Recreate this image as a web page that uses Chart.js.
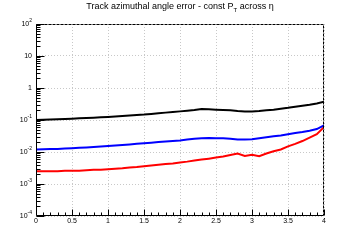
<!DOCTYPE html>
<html>
<head>
<meta charset="utf-8">
<script src="https://cdn.jsdelivr.net/npm/chart.js@4"></script>
<style>
html, body { margin: 0; padding: 0; background: #fff; }
#wrap { position: relative; width: 360px; height: 240px; }
#chart { position: absolute; left: 0; top: 0; }
#title { position: absolute; left: 0; top: 1px; width: 360px; text-align: center;
         font: 9px "Liberation Sans", Arial, sans-serif; color: #000; }
#title sub { font-size: 6px; vertical-align: -3px; }
</style>
</head>
<body>
<div id="wrap">
  <canvas id="chart" width="360" height="240"></canvas>
  <div id="title">Track azimuthal angle error - const P<sub>T</sub> across η</div>
</div>
<script>
// eta bins (x axis)
var eta = [0, 0.1, 0.2, 0.3, 0.4, 0.5, 0.6, 0.7, 0.8, 0.9,
           1.0, 1.1, 1.2, 1.3, 1.4, 1.5, 1.6, 1.7, 1.8, 1.9,
           2.0, 2.1, 2.2, 2.3, 2.4, 2.5, 2.6, 2.7, 2.8, 2.9,
           3.0, 3.1, 3.2, 3.3, 3.4, 3.5, 3.6, 3.7, 3.8, 3.9, 4.0];

// phi error, black curve
var errBlack = [0.100, 0.101, 0.103, 0.105, 0.107, 0.110, 0.113, 0.115, 0.118, 0.121,
                0.125, 0.129, 0.133, 0.138, 0.143, 0.148, 0.155, 0.162, 0.170, 0.178,
                0.186, 0.195, 0.205, 0.220, 0.215, 0.210, 0.205, 0.200, 0.190, 0.185,
                0.185, 0.190, 0.200, 0.210, 0.225, 0.240, 0.260, 0.280, 0.300, 0.330, 0.370];

// phi error, blue curve
var errBlue = [0.0120, 0.0121, 0.0123, 0.0125, 0.0128, 0.0131, 0.0135, 0.0139, 0.0143, 0.0148,
               0.0153, 0.0159, 0.0165, 0.0172, 0.0180, 0.0188, 0.0196, 0.0205, 0.0214, 0.0222,
               0.0230, 0.0245, 0.0260, 0.0270, 0.0272, 0.0270, 0.0268, 0.0260, 0.0245, 0.0245,
               0.0250, 0.0270, 0.0290, 0.0310, 0.0330, 0.0360, 0.0390, 0.0420, 0.0460, 0.0520, 0.0680];

// phi error, red curve
var errRed = [0.0025, 0.0025, 0.0025, 0.0025, 0.0026, 0.0026, 0.0026, 0.0027, 0.0028, 0.0028,
              0.0029, 0.0030, 0.0031, 0.0033, 0.0034, 0.0036, 0.0038, 0.0040, 0.0042, 0.0044,
              0.0047, 0.0050, 0.0054, 0.0058, 0.0062, 0.0067, 0.0072, 0.0080, 0.0089, 0.0075,
              0.0082, 0.0074, 0.0090, 0.0105, 0.0120, 0.0150, 0.0180, 0.0220, 0.0280, 0.0360, 0.0600];

// y axis decades and their exponents ('' = no exponent)
var yDecades = [1e-4, 1e-3, 1e-2, 1e-1, 1, 10, 100];
var yBase = ['10', '10', '10', '10', '1', '10', '10'];
var yExp = ['-4', '-3', '-2', '-1', '', '', '2'];

function pts(vals) {
    return eta.map(function (x, i) { return { x: x, y: vals[i] }; });
}

// root style frame: solid left/bottom axes with inner ticks, dashed top/right,
// plus y labels with raised exponents
var rootFrame = {
    id: 'rootFrame',
    afterDraw: function (chart) {
        var ctx = chart.ctx, a = chart.chartArea;
        var xs = chart.scales.x, ys = chart.scales.y;
        var L = Math.round(a.left) + 0.5, R = Math.round(a.right) - 0.5;
        var T = Math.round(a.top) + 0.5, B = Math.round(a.bottom) - 0.5;
        ctx.save();
        ctx.strokeStyle = '#000';
        ctx.lineWidth = 1;
        ctx.setLineDash([3, 1]);
        ctx.beginPath();
        ctx.moveTo(L, T); ctx.lineTo(R, T); ctx.lineTo(R, B);
        ctx.stroke();
        ctx.setLineDash([]);
        ctx.beginPath();
        ctx.moveTo(L, T); ctx.lineTo(L, B); ctx.lineTo(R, B);
        // x ticks
        for (var k = 0; k <= 40; k++) {
            var px = Math.round(xs.getPixelForValue(k / 10)) + 0.5;
            var len = (k % 5 === 0) ? 6 : 3;
            ctx.moveTo(px, B); ctx.lineTo(px, B - len);
        }
        // y ticks
        for (var d = -4; d <= 2; d++) {
            for (var m = 1; m <= 9; m++) {
                if (d === 2 && m > 1) break;
                var py = Math.round(ys.getPixelForValue(m * Math.pow(10, d))) + 0.5;
                var ylen = (m === 1) ? 8 : 4;
                ctx.moveTo(L, py); ctx.lineTo(L + ylen, py);
            }
        }
        ctx.stroke();

        // y labels
        ctx.fillStyle = '#000';
        ctx.textBaseline = 'middle';
        for (var i = 0; i < yDecades.length; i++) {
            var y = ys.getPixelForValue(yDecades[i]);
            var right = a.left - 4;
            ctx.font = '5px "Liberation Sans", Arial, sans-serif';
            var ew = yExp[i] ? ctx.measureText(yExp[i]).width : 0;
            ctx.textAlign = 'left';
            if (yExp[i]) ctx.fillText(yExp[i], right - ew, y - 3);
            ctx.font = '7px "Liberation Sans", Arial, sans-serif';
            ctx.textAlign = 'right';
            ctx.fillText(yBase[i], right - ew, y);
        }
        ctx.restore();
    }
};

new Chart(document.getElementById('chart'), {
    type: 'line',
    data: {
        datasets: [
            { data: pts(errBlack), borderColor: '#000000', borderWidth: 2 },
            { data: pts(errBlue), borderColor: '#0000ff', borderWidth: 2 },
            { data: pts(errRed), borderColor: '#ff0000', borderWidth: 2 }
        ]
    },
    options: {
        responsive: false,
        animation: false,
        layout: { padding: { top: 24, right: 36, left: 0, bottom: 0 } },
        elements: { point: { radius: 0 }, line: { tension: 0 } },
        plugins: { legend: { display: false }, tooltip: { enabled: false } },
        scales: {
            x: {
                type: 'linear', min: 0, max: 4,
                ticks: { stepSize: 0.5, color: '#000', padding: 1, maxRotation: 0,
                         font: { family: 'Liberation Sans', size: 7 },
                         callback: function (v) { return String(Math.round(v * 10) / 10); } },
                grid: { color: '#c8c8c8', drawTicks: false },
                border: { display: false, dash: [1, 2] },
                afterFit: function (s) { s.height = 24; }
            },
            y: {
                type: 'logarithmic', min: 1e-4, max: 100,
                afterBuildTicks: function (s) {
                    s.ticks = yDecades.map(function (v) { return { value: v, major: true }; });
                },
                ticks: { display: false },
                grid: { color: '#c8c8c8', drawTicks: false },
                border: { display: false, dash: [1, 2] },
                afterFit: function (s) { s.width = 36; }
            }
        }
    },
    plugins: [rootFrame]
});
</script>
</body>
</html>
